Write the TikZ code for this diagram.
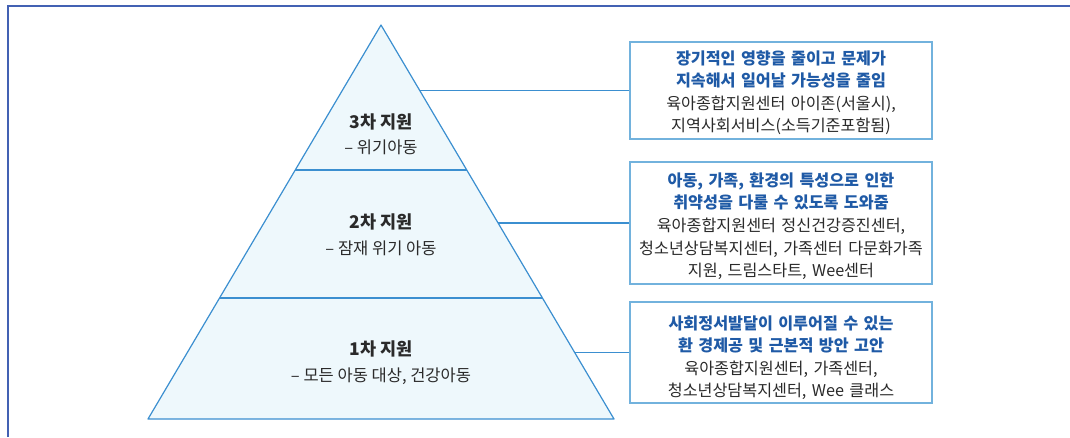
\documentclass[tikz,border=0pt]{standalone}
\usepackage{fontspec}
\setmainfont{Noto Sans CJK KR}
\definecolor{frameblue}{HTML}{4361B3}
\definecolor{tristroke}{HTML}{3B8FD0}
\definecolor{trifill}{HTML}{EEF8FC}
\definecolor{boxstroke}{HTML}{72B2DD}
\definecolor{titleblue}{HTML}{1F5AA6}
\definecolor{bodytext}{HTML}{2A2A2A}
\newcommand\tb[1]{{\color{titleblue}\bfseries #1}}
\tikzset{
  infobox/.style={draw=boxstroke, line width=1.2pt, fill=white, minimum width=302pt, text width=296pt, align=center, inner sep=0pt, font=\fontsize{16.2}{22.6}\selectfont, text=bodytext},
  tierhead/.style={font=\fontsize{17.5}{20}\selectfont\bfseries, text=bodytext},
  tiersub/.style={font=\fontsize{16.5}{18}\selectfont, text=bodytext},
  link/.style={draw=tristroke, line width=1.1pt}
}
\begin{document}
\begin{tikzpicture}[x=1pt,y=-1pt]
\useasboundingbox (0,0) rectangle (1070,437);
% frame
\draw[frameblue, line width=2pt] (8,437) -- (8,5.5) -- (1070,5.5);
% pyramid
\coordinate (apex) at (381,25);
\coordinate (bl) at (148,419);
\coordinate (br) at (614,419);
\filldraw[fill=trifill, draw=tristroke, line width=1.2pt, line join=round] (apex) -- (br) -- (bl) -- cycle;
\draw[tristroke, line width=1.1pt] (295.2,170) -- (466.8,170);
\draw[tristroke, line width=1.1pt] (219.6,298) -- (542.4,298);
% tier labels
\node[tierhead] (t3) at (381,122) {3차 지원};
\node[tiersub] (s3) at (381,147) {– 위기아동};
\node[tierhead] (t2) at (381,222) {2차 지원};
\node[tiersub] (s2) at (381,248) {– 잠재 위기 아동};
\node[tierhead] (t1) at (381,349) {1차 지원};
\node[tiersub] (s1) at (381,376) {– 모든 아동 대상, 건강아동};
% boxes
\node[infobox, minimum height=97pt] (b3) at (781,90.5) {\rule{0pt}{18pt}\tb{장기적인 영향을 줄이고 문제가}\\\tb{지속해서 일어날 가능성을 줄임}\\육아종합지원센터 아이존(서울시),\\지역사회서비스(소득기준포함됨)};
\node[infobox, minimum height=122pt] (b2) at (781,223) {\rule{0pt}{20pt}\tb{아동, 가족, 환경의 특성으로 인한}\\\tb{취약성을 다룰 수 있도록 도와줌}\\육아종합지원센터 정신건강증진센터,\\청소년상담복지센터, 가족센터 다문화가족\\지원, 드림스타트, Wee센터};
\node[infobox, minimum height=101pt] (b1) at (781,352.5) {\rule{0pt}{24pt}\tb{사회정서발달이 이루어질 수 있는}\\\tb{환 경제공 및 근본적 방안 고안}\\육아종합지원센터, 가족센터,\\청소년상담복지센터, Wee 클래스};
% connectors
\coordinate (c3) at (419.7,90.5);
\coordinate (c2) at (498,223);
\coordinate (c1) at (574.7,352.5);
\draw[link] (c3) -- (b3.west);
\draw[link] (c2) -- (b2.west);
\draw[link] (c1) -- (b1.west);
\end{tikzpicture}
\end{document}
